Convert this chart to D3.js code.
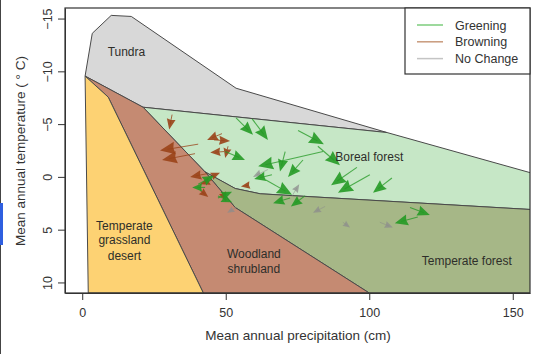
<!DOCTYPE html>
<html><head><meta charset="utf-8">
<script src="https://cdn.jsdelivr.net/npm/d3@7"></script>
<style>body{margin:0;background:#fff}svg{display:block;font-family:"Liberation Sans",Arial,sans-serif}</style>
</head><body><svg id="c" width="538" height="354"></svg>
<script>
// ---- data ----
const xTicks = [0, 50, 100, 150];
const yTicks = [-15, -10, -5, 0, 5, 10];
const tundra = [[1.0,-9.55],[3.5,-13.6],[10.1,-15.3],[17.1,-15.2],[53.6,-8.4],[106.2,-4.2],[21.2,-6.6]];
const boreal = [[21.2,-6.6],[106.2,-4.2],[160,-0.1],[160,3.15],[62.0,1.6],[53.3,1.1],[42.8,-0.47]];
const temperateForest = [[42.8,-0.47],[53.3,1.1],[62.0,1.6],[160,3.15],[160,11],[100.0,11],[53.3,2.9]];
const woodland = [[1.0,-9.55],[21.2,-6.6],[42.8,-0.47],[53.3,2.9],[100.0,11],[42.2,11],[9.05,-7.56]];
const desert = [[1.0,-9.55],[9.05,-7.56],[42.2,11],[2.1,11]];
const biomeNames = ["Tundra","Boreal forest","Temperate forest","Woodland","Temperate grassland desert"];
const legendLabels = ["Greening","Browning","No Change"];
// arrows: [x0, y0, x1, y1]  (precipitation cm, temperature °C) tail -> head
const browning = [
 [31.3,-5.9,30.3,-4.5],[40.4,-3.1,27.1,-2.5],[39.3,-2.2,27.8,-1.6],[48.7,-4.1,43.5,-3.5],
 [45.9,-3.5,51.5,-3.4],[49.4,-2.4,44.6,-2.3],[50.8,-2.9,49.8,-1.8],[43.5,-0.3,37.6,0.0],
 [45.2,0.3,41.1,0.7],[44.6,0.0,48.0,-0.4],[41.1,1.3,43.9,1.9],[48.7,1.4,50.1,2.3],[57.8,0.8,55.3,0.9]
];
const greening = [
 [53.6,-5.6,59.5,-4.0],[59.2,-5.5,64.7,-3.5],[49.8,-2.4,56.7,-1.6],[83.9,-2.4,61.3,-1.0],
 [75.2,-4.4,84.2,-3.1],[82.1,-2.9,89.8,-1.1],[70.7,-2.4,68.9,-0.5],[76.9,-1.6,71.7,0.0],
 [64.0,0.3,73.1,1.7],[95.7,-0.9,86.7,0.8],[100.2,-0.2,89.1,1.5],[107.9,0.1,101.3,1.5],
 [114.2,2.9,121.1,3.6],[116.9,3.8,108.9,4.4],[66.1,-0.2,59.9,0.2],[72.4,2.0,66.5,2.5],
 [77.6,1.8,72.7,2.8],[40.4,0.7,45.9,-0.1],[42.8,1.0,38.3,1.0],[47.3,2.0,52.2,1.4],[47.3,1.8,52.2,2.4]
];
const noChange = [
 [73.1,1.8,75.6,0.7],[84.6,2.8,80.4,3.4],[90.8,4.3,93.3,4.8],[103.7,4.3,108.2,4.8],
 [53.6,2.9,50.5,3.4],[64.7,-0.7,59.5,0.0]
];

// ---- drawing ----
const svg = d3.select("#c");
const L=65, R=530, T=8, B=293;
const x = d3.scaleLinear().domain([-6,156]).range([L,R]);
const y = d3.scaleLinear().domain([-16,11]).range([T,B]);

// left artifact
svg.append("line").attr("x1",0.5).attr("x2",0.5).attr("y1",0).attr("y2",354).attr("stroke","#444").attr("stroke-width",1);
svg.append("rect").attr("x",0).attr("y",203).attr("width",3).attr("height",42).attr("fill","#2f5fe0");

svg.append("clipPath").attr("id","clip").append("rect").attr("x",L).attr("y",T).attr("width",R-L).attr("height",B-T);
const g = svg.append("g").attr("clip-path","url(#clip)");
const line = d3.line().x(d=>x(d[0])).y(d=>y(d[1]));
const regions = [
 [tundra,"#d8d8d8"],[boreal,"#c6e7c6"],[temperateForest,"#a6b787"],[woodland,"#c58a72"],[desert,"#fdd273"]
];
regions.forEach(([pts,col])=>{
  g.append("path").attr("d",line(pts)+"Z").attr("fill",col).attr("stroke","#4a4a4a").attr("stroke-width",1).attr("stroke-linejoin","round");
});

// labels
const lab = (t,px,py)=>svg.append("text").attr("x",x(px)).attr("y",y(py)).attr("text-anchor","middle")
  .attr("font-size",12).attr("fill","#2e2e2a").text(t);
lab(biomeNames[0],15.4,-11.5);
lab("Woodland",59.8,7.7);
lab("shrubland",59.8,9.1);
lab("Temperate",14.7,5.0);
lab("grassland",14.7,6.4);
lab("desert",14.7,7.9);
lab(biomeNames[2],134,8.3);

// arrows
function drawArrows(data,col,sw,op,scale){
  const ga = g.append("g");
  data.forEach(a=>{
    const x1=x(a[0]),y1=y(a[1]),x2=x(a[2]),y2=y(a[3]);
    const dx=x2-x1, dy=y2-y1, len=Math.hypot(dx,dy);
    const ux=dx/len, uy=dy/len, nx=-uy, ny=ux;
    const hl=scale*Math.max(9,Math.min(15,6+0.3*len)), hw=hl*0.42;
    ga.append("line").attr("x1",x1).attr("y1",y1).attr("x2",x2-ux*hl*0.5).attr("y2",y2-uy*hl*0.5)
      .attr("stroke",col).attr("stroke-width",sw).attr("opacity",op*0.85);
    const bx=x2-ux*hl, by=y2-uy*hl;
    ga.append("path").attr("d",`M${x2},${y2}L${bx+nx*hw},${by+ny*hw}L${x2-ux*hl*0.9},${y2-uy*hl*0.9}L${bx-nx*hw},${by-ny*hw}Z`)
      .attr("fill",col).attr("opacity",op);
  });
}
drawArrows(noChange,"#8c8c8c",0.8,0.75,0.8);
drawArrows(browning,"#9a4218",1.0,0.9,1);
drawArrows(greening,"#259a25",1.1,0.9,1);

lab(biomeNames[1],100,-1.5);

// box
svg.append("rect").attr("x",L).attr("y",T).attr("width",R-L).attr("height",B-T).attr("fill","none").attr("stroke","#333").attr("stroke-width",1.2);

// axes
const xa = svg.append("g").attr("transform",`translate(0,${B})`)
  .call(d3.axisBottom(x).tickValues(xTicks).tickSize(7).tickPadding(8).tickSizeOuter(0));
xa.select(".domain").attr("stroke","#333");
xa.selectAll("text").attr("font-size",12.5).attr("fill","#333").attr("font-family","Liberation Sans, Arial");
xa.selectAll("line").attr("stroke","#333");
const ya = svg.append("g").attr("transform",`translate(${L},0)`)
  .call(d3.axisLeft(y).tickValues(yTicks).tickSize(7).tickSizeOuter(0));
ya.select(".domain").attr("stroke","#333");
ya.selectAll("line").attr("stroke","#333");
ya.selectAll("text").attr("x",0).attr("dy",0).attr("text-anchor","middle")
  .attr("transform","translate(-13,0) rotate(-90)").attr("font-size",12.5).attr("fill","#333").attr("font-family","Liberation Sans, Arial");

svg.append("text").attr("x",298).attr("y",340).attr("text-anchor","middle").attr("font-size",13.5).attr("fill","#333")
  .text("Mean annual precipitation (cm)");
svg.append("text").attr("transform","translate(25,151) rotate(-90)").attr("text-anchor","middle").attr("font-size",13.5).attr("fill","#333")
  .text("Mean annual temperature ( ° C)");

// legend
const lg = svg.append("g");
lg.append("rect").attr("x",405).attr("y",T).attr("width",R-405).attr("height",66).attr("fill","#fff").attr("stroke","#333").attr("stroke-width",1.2);
const legCols = ["#7ccc7c","#c99a7c","#c4c4c4"];
legendLabels.forEach((t,i)=>{
  const yy = 25 + i*16.8;
  lg.append("line").attr("x1",417).attr("x2",443).attr("y1",yy).attr("y2",yy).attr("stroke",legCols[i]).attr("stroke-width",1.5);
  lg.append("text").attr("x",455).attr("y",yy+4.5).attr("font-size",12.5).attr("fill","#333").text(t);
});
</script></body></html>
